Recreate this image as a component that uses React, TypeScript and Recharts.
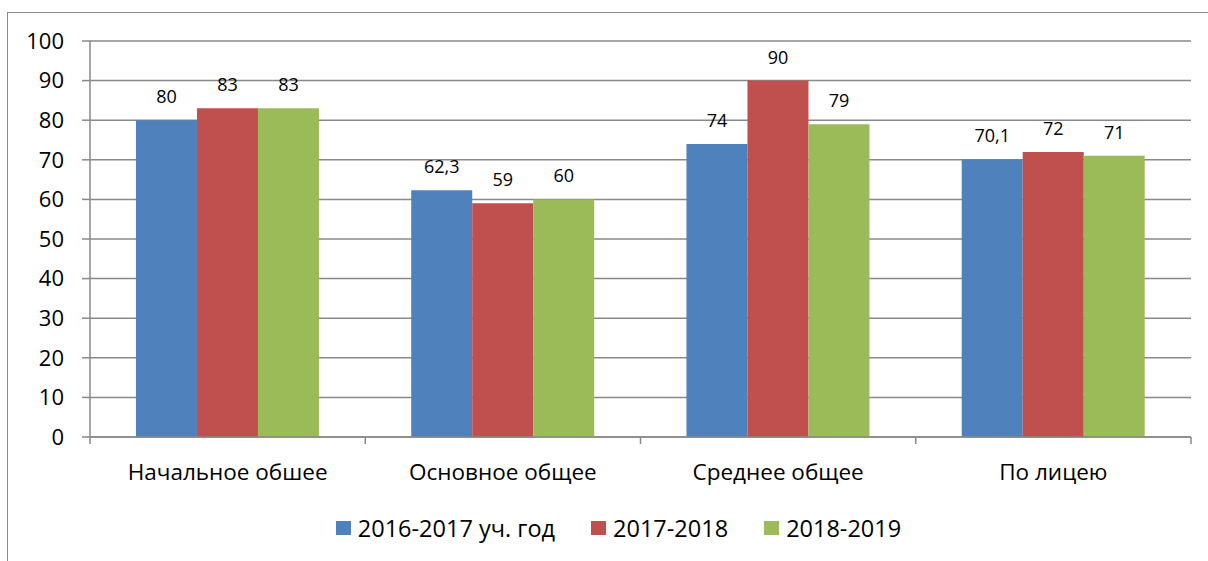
import React from 'react';
import { BarChart, Bar, XAxis, YAxis, CartesianGrid, Legend, LabelList } from 'recharts';

const categories = ['Начальное обшее', 'Основное общее', 'Среднее общее', 'По лицею'];
const year2016 = [80, 62.3, 74, 70.1];
const year2017 = [83, 59, 90, 72];
const year2018 = [83, 60, 79, 71];
const yTicks = [0, 10, 20, 30, 40, 50, 60, 70, 80, 90, 100];

const seriesInfo = [
  { key: 'y2016', name: '2016-2017 уч. год', color: '#4F81BD' },
  { key: 'y2017', name: '2017-2018', color: '#C0504D' },
  { key: 'y2018', name: '2018-2019', color: '#9BBB59' },
];

const data = categories.map((name, i) => ({
  name,
  y2016: year2016[i],
  y2017: year2017[i],
  y2018: year2018[i],
}));

const FONT = '"Open Sans", sans-serif';
const AXIS_GRAY = '#898989';
const TICK_MARGIN = 27;

const fmt = (v: any) => String(v).replace('.', ',');

// category label plus the small tick marks on the band edges
const CategoryTick = (props: any) => {
  const { x, y, payload, index, width } = props;
  const half = payload && payload.offset ? payload.offset : (width || 1100) / categories.length / 2;
  const axisY = y - TICK_MARGIN;
  return (
    <g>
      <line x1={x - half} x2={x - half} y1={axisY} y2={axisY + 7} stroke={AXIS_GRAY} strokeWidth={1.5} />
      {index === categories.length - 1 && (
        <line x1={x + half} x2={x + half} y1={axisY} y2={axisY + 7} stroke={AXIS_GRAY} strokeWidth={1.5} />
      )}
      <text x={x} y={y} dy="0.71em" textAnchor="middle" fill="#000" fontSize={22.5} fontFamily={FONT}>
        {payload.value}
      </text>
    </g>
  );
};

const LegendContent = () => (
  <div style={{ display: 'flex', justifyContent: 'center', alignItems: 'center', fontFamily: FONT, fontSize: 23.5, lineHeight: '30px', height: 30, color: '#000' }}>
    {seriesInfo.map((s, i) => (
      <div key={s.key} style={{ display: 'flex', alignItems: 'center', marginLeft: i === 0 ? 0 : 36 }}>
        <span style={{ display: 'inline-block', width: 15, height: 14, background: s.color, marginRight: 7 }} />
        <span>{s.name}</span>
      </div>
    ))}
  </div>
);

export default function App() {
  return (
    <div style={{ width: 1208, height: 561, paddingTop: 12, paddingLeft: 7, boxSizing: 'border-box', overflow: 'hidden', background: '#fff' }}>
      <style>{'body { margin: 0; }'}</style>
      <div
        style={{
          width: 1201,
          height: 549,
          boxSizing: 'border-box',
          borderTop: '1px solid #8a8a8a',
          borderLeft: '1px solid #8a8a8a',
        }}
      >
        <BarChart
          width={1200}
          height={548}
          data={data}
          margin={{ top: 28, right: 17, left: 0, bottom: 34 }}
          barCategoryGap="16.7%"
          barGap={0}
        >
          <CartesianGrid vertical={false} stroke={AXIS_GRAY} strokeWidth={1.5} />
          <XAxis
            dataKey="name"
            height={60}
            tickLine={false}
            tickSize={0}
            tickMargin={TICK_MARGIN}
            axisLine={{ stroke: AXIS_GRAY, strokeWidth: 1.5 }}
            tick={<CategoryTick />}
            interval={0}
          />
          <YAxis
            width={82}
            domain={[0, 100]}
            ticks={yTicks}
            tickSize={8}
            tickMargin={18}
            stroke={AXIS_GRAY}
            strokeWidth={1.5}
            tick={{ fill: '#000', fontSize: 22, fontFamily: FONT }}
          />
          <Legend
            verticalAlign="bottom"
            align="center"
            height={30}
            wrapperStyle={{ bottom: 18, left: 0, width: 1221 }}
            content={<LegendContent />}
          />
          {seriesInfo.map((s) => (
            <Bar key={s.key} dataKey={s.key} name={s.name} fill={s.color} isAnimationActive={false}>
              <LabelList
                dataKey={s.key}
                position="top"
                offset={17}
                formatter={fmt}
                style={{ fill: '#000', fontSize: 18, fontFamily: FONT }}
              />
            </Bar>
          ))}
        </BarChart>
      </div>
    </div>
  );
}
